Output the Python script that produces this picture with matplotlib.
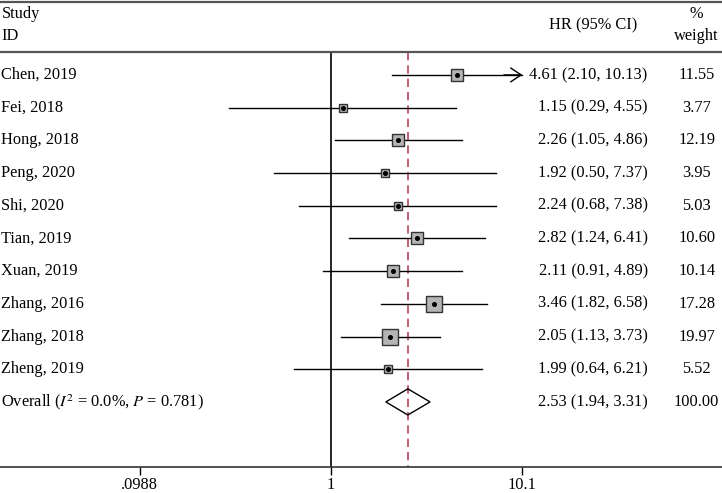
import matplotlib
matplotlib.use("Agg")
import matplotlib.pyplot as plt
import matplotlib.transforms as mtransforms
from matplotlib.patches import Polygon
import numpy as np

plt.rcParams['font.family'] = ['Liberation Serif', 'DejaVu Serif']
plt.rcParams['mathtext.fontset'] = 'stix'

studies = ["Chen, 2019", "Fei, 2018", "Hong, 2018", "Peng, 2020", "Shi, 2020",
           "Tian, 2019", "Xuan, 2019", "Zhang, 2016", "Zhang, 2018", "Zheng, 2019"]
hr = [4.61, 1.15, 2.26, 1.92, 2.24, 2.82, 2.11, 3.46, 2.05, 1.99]
ci_lo = [2.10, 0.29, 1.05, 0.50, 0.68, 1.24, 0.91, 1.82, 1.13, 0.64]
ci_hi = [10.13, 4.55, 4.86, 7.37, 7.38, 6.41, 4.89, 6.58, 3.73, 6.21]
weights = [11.55, 3.77, 12.19, 3.95, 5.03, 10.60, 10.14, 17.28, 19.97, 5.52]
overall = (2.53, 1.94, 3.31)
overall_label = "Overall ($I^2$ = 0.0%, $P$ = 0.781)"
xticks = [0.0988, 1, 10.1]
xticklabels = [".0988", "1", "10.1"]

fs = 11.8
fig = plt.figure(figsize=(7.22, 4.93), dpi=100)
ax = fig.add_axes([0, 26/493, 1, 465/493])
ax.set_xscale('log')
ax.set_xlim(0.0183, 112.8)
ax.set_ylim(12.99, -1.23)  # rows top to bottom

rows = np.arange(1, len(studies) + 1)
x_max = xticks[-1]

for y, h, lo, hi, w in zip(rows, hr, ci_lo, ci_hi, weights):
    if hi > x_max:
        ax.plot([lo, x_max], [y, y], color='black', lw=1.0, zorder=2)
        ax.annotate('', xy=(x_max, y), xytext=(x_max * 0.8, y),
                    arrowprops=dict(arrowstyle='->,head_length=0.75,head_width=0.5',
                                    color='black', lw=1.0, shrinkA=0, shrinkB=0))
    else:
        ax.plot([lo, hi], [y, y], color='black', lw=1.0, zorder=2)
    ax.plot(h, y, marker='s', ms=2.65 * np.sqrt(w), mfc='#b4b4b4',
            mec='#333333', mew=1.0, zorder=3)
    ax.plot(h, y, marker='o', ms=2.6, color='black', zorder=4)

# overall diamond
yo = len(studies) + 1
est, olo, ohi = overall
dia = Polygon([[olo, yo], [est, yo - 0.4], [ohi, yo], [est, yo + 0.4]],
              closed=True, fill=False, edgecolor='black', lw=1.0, zorder=3)
ax.add_patch(dia)

header_y = 0.30
ax.plot([1, 1], [header_y, 12.99], color='black', lw=1.2, zorder=1)
ax.plot([est, est], [header_y, 12.99], color='#b5475a', lw=1.2,
        dashes=(5, 3), zorder=1)
ax.axhline(header_y, color='#555555', lw=1.6)

# text columns
trans = mtransforms.blended_transform_factory(ax.transAxes, ax.transData)
for y, name, h, lo, hi, w in zip(rows, studies, hr, ci_lo, ci_hi, weights):
    ax.text(0.002, y, name, transform=trans, ha='left', va='center', fontsize=fs)
    ax.text(0.897, y, f"{h:.2f} ({lo:.2f}, {hi:.2f})", transform=trans,
            ha='right', va='center', fontsize=fs)
    ax.text(0.965, y, f"{w:.2f}", transform=trans, ha='center', va='center', fontsize=fs)
ax.text(0.002, yo, overall_label, transform=trans, ha='left', va='center', fontsize=fs)
ax.text(0.897, yo, f"{est:.2f} ({olo:.2f}, {ohi:.2f})", transform=trans,
        ha='right', va='center', fontsize=fs)
ax.text(0.965, yo, "100.00", transform=trans, ha='center', va='center', fontsize=fs)

ax.text(0.002, -0.87, "Study", transform=trans, ha='left', va='center', fontsize=fs)
ax.text(0.002, -0.19, "ID", transform=trans, ha='left', va='center', fontsize=fs)
ax.text(0.821, -0.50, "HR (95% CI)", transform=trans, ha='center', va='center', fontsize=fs)
ax.text(0.965, -0.87, "%", transform=trans, ha='center', va='center', fontsize=fs)
ax.text(0.965, -0.19, "weight", transform=trans, ha='center', va='center', fontsize=fs)

ax.set_xticks(xticks)
ax.set_xticklabels(xticklabels, fontsize=fs)
ax.xaxis.set_minor_locator(matplotlib.ticker.NullLocator())
ax.tick_params(axis='x', length=5.5, width=1.0, color='black', pad=1.5)
ax.set_yticks([])
for s in ['left', 'right']:
    ax.spines[s].set_visible(False)
ax.spines['top'].set_color('#555555')
ax.spines['top'].set_linewidth(1.6)
ax.spines['bottom'].set_color('#333333')
ax.spines['bottom'].set_linewidth(1.2)

fig.savefig("out.png", dpi=100)
